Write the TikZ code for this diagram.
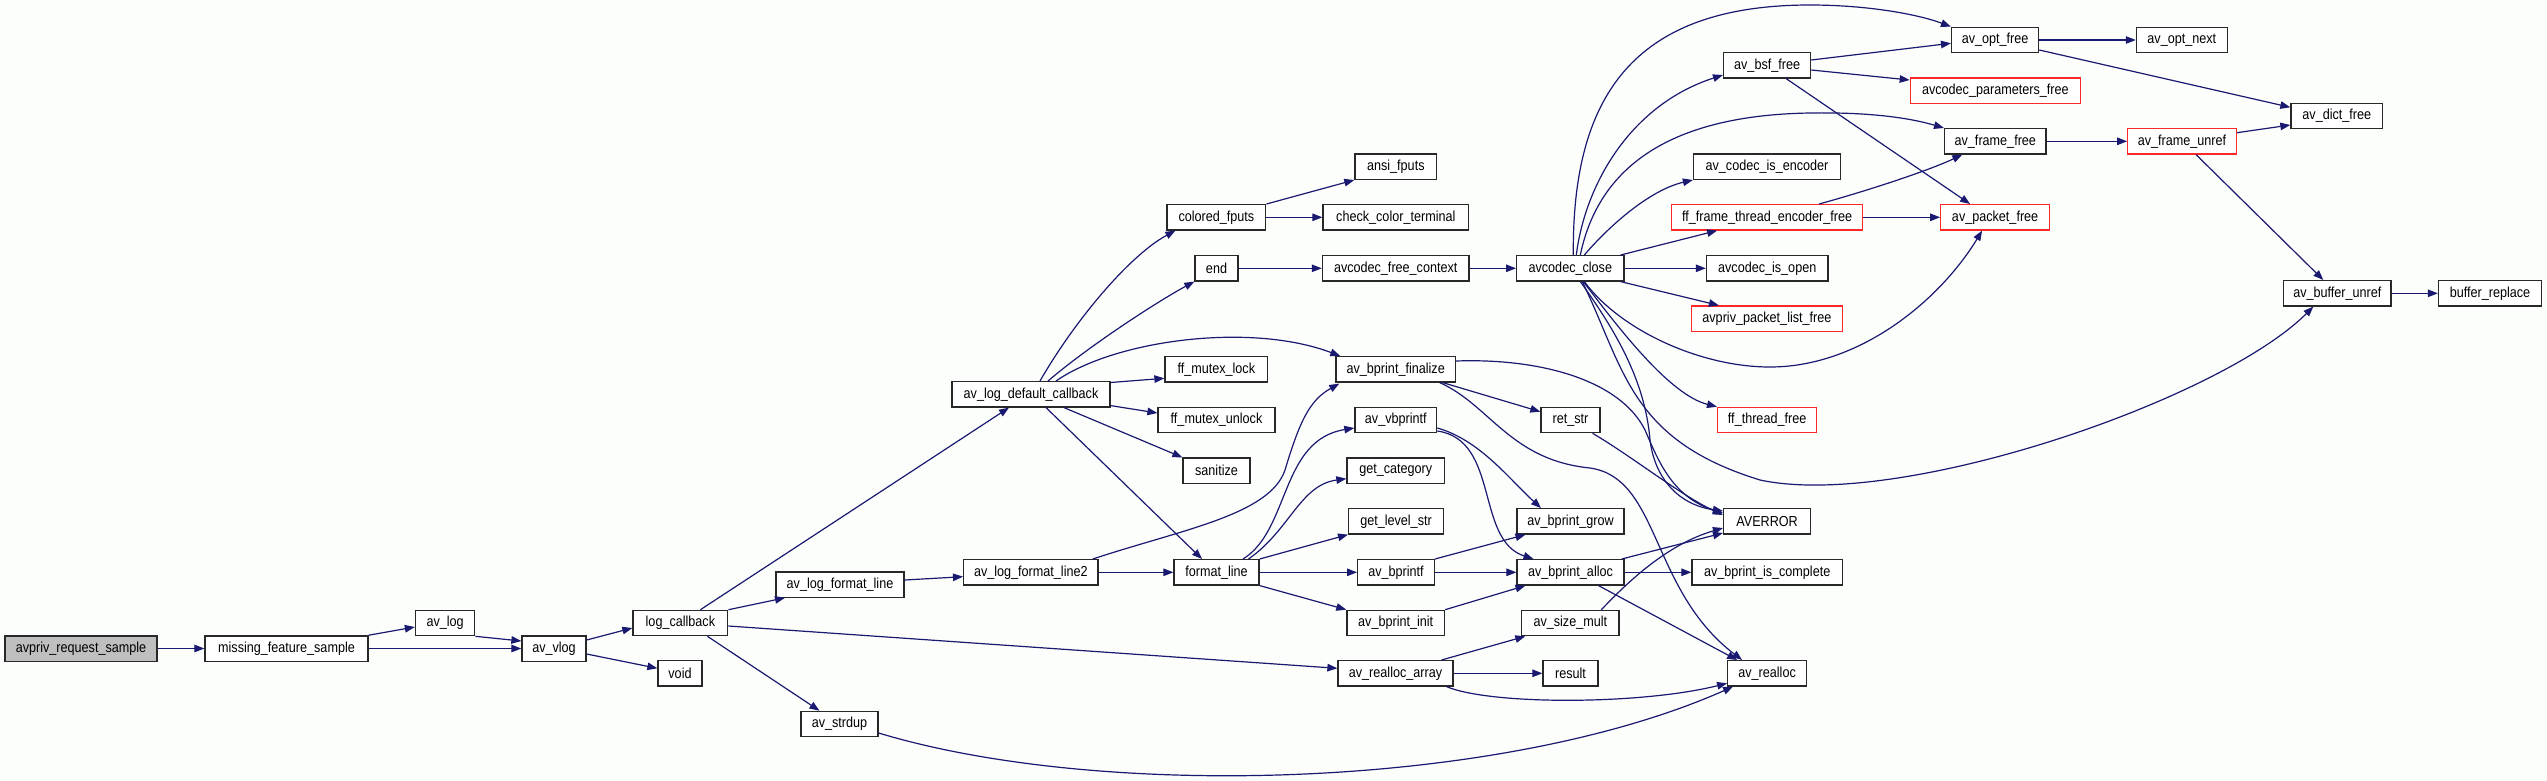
\documentclass[tikz,border=0pt]{standalone}
\usepackage{fontspec}
\setmainfont{Liberation Sans}
\newfontfamily\nodefont[FakeStretch=0.87]{Liberation Sans}
\usetikzlibrary{arrows.meta}
\definecolor{edgeblue}{RGB}{25,25,112}
\definecolor{boxred}{RGB}{255,40,40}
\definecolor{boxgray}{RGB}{191,191,191}
\definecolor{bgc}{RGB}{252,254,252}
\definecolor{boxline}{RGB}{40,40,40}
\begin{document}
\begin{tikzpicture}[x=1pt,y=-1pt,
  box/.style={draw=boxline, line width=1.3pt, fill=white, minimum height=25.3pt, inner sep=0pt,
    font=\nodefont\fontsize{14.5}{16}\selectfont, text=black},
  redbox/.style={box, draw=boxred},
  graybox/.style={box, fill=boxgray},
  e/.style={draw=edgeblue, line width=1.2pt, -{Triangle[length=10pt,width=7.5pt]}, color=edgeblue}]
\fill[bgc] (0,0) rectangle (2547,780);
\useasboundingbox (0,0) rectangle (2547,780);
% nodes
\node[graybox, minimum width=152] (ars) at (81,648.5) {avpriv\_request\_sample};
\node[box, minimum width=163] (mfs) at (286.5,648.5) {missing\_feature\_sample};
\node[box, minimum width=59.2] (avlog) at (445.1,623) {av\_log};
\node[box, minimum width=64] (vlog) at (554,648.5) {av\_vlog};
\node[box, minimum width=94.8] (logcb) at (680.4,623) {log\_callback};
\node[box, minimum width=44] (void) at (680,673.3) {void};
\node[box, minimum width=77] (strdup) at (839.5,724) {av\_strdup};
\node[box, minimum width=128] (lfl) at (840,584.5) {av\_log\_format\_line};
\node[box, minimum width=134.3] (lfl2) at (1030.8,572.3) {av\_log\_format\_line2};
\node[box, minimum width=158] (ldc) at (1031,394.3) {av\_log\_default\_callback};
\node[box, minimum width=85] (fmt) at (1216.5,572.3) {format\_line};
\node[box, minimum width=98.8] (cfp) at (1216.4,217.3) {colored\_fputs};
\node[box, minimum width=43] (endn) at (1216.5,268.3) {end};
\node[box, minimum width=102.6] (mlock) at (1216.3,369.3) {ff\_mutex\_lock};
\node[box, minimum width=117] (munlock) at (1216.5,420) {ff\_mutex\_unlock};
\node[box, minimum width=67] (sanit) at (1216.5,470.7) {sanitize};
\node[box, minimum width=81.7] (ansi) at (1395.8,166.7) {ansi\_fputs};
\node[box, minimum width=145.6] (cct) at (1395.8,217.3) {check\_color\_terminal};
\node[box, minimum width=146.6] (afc) at (1395.7,268.3) {avcodec\_free\_context};
\node[box, minimum width=119.5] (bpfin) at (1395.7,369.3) {av\_bprint\_finalize};
\node[box, minimum width=81.7] (vbpf) at (1395.8,420) {av\_vbprintf};
\node[box, minimum width=97.5] (getcat) at (1395.7,470.7) {get\_category};
\node[box, minimum width=94.7] (getlvl) at (1396,521.3) {get\_level\_str};
\node[box, minimum width=76.7] (bpf) at (1396,572.3) {av\_bprintf};
\node[box, minimum width=97.5] (bpinit) at (1395.7,623) {av\_bprint\_init};
\node[box, minimum width=115] (rarr) at (1395.5,673.3) {av\_realloc\_array};
\node[box, minimum width=107.3] (acclose) at (1570.3,268.3) {avcodec\_close};
\node[box, minimum width=59] (retstr) at (1570.5,420) {ret\_str};
\node[box, minimum width=107] (bpgrow) at (1570.5,521.3) {av\_bprint\_grow};
\node[box, minimum width=107] (bpalloc) at (1570.5,572.3) {av\_bprint\_alloc};
\node[box, minimum width=97.4] (sizemult) at (1570.3,623) {av\_size\_mult};
\node[box, minimum width=55] (result) at (1570.5,673.3) {result};
\node[box, minimum width=87] (bsf) at (1767.1,65.3) {av\_bsf\_free};
\node[box, minimum width=147] (isenc) at (1767,166.7) {av\_codec\_is\_encoder};
\node[redbox, minimum width=190.7] (ftef) at (1767.1,217.3) {ff\_frame\_thread\_encoder\_free};
\node[box, minimum width=121.5] (isopen) at (1767.2,268.3) {avcodec\_is\_open};
\node[redbox, minimum width=151] (pklf) at (1766.9,318.7) {avpriv\_packet\_list\_free};
\node[redbox, minimum width=99] (thfree) at (1767.1,420) {ff\_thread\_free};
\node[box, minimum width=87] (averr) at (1767.1,521.3) {AVERROR};
\node[box, minimum width=150.4] (bpcomplete) at (1767.2,572.3) {av\_bprint\_is\_complete};
\node[box, minimum width=78.8] (realloc) at (1767.1,673.3) {av\_realloc};
\node[box, minimum width=87] (optfree) at (1995.1,40) {av\_opt\_free};
\node[redbox, minimum width=170] (parfree) at (1995.3,90.7) {avcodec\_parameters\_free};
\node[box, minimum width=101.4] (frfree) at (1995.3,141.3) {av\_frame\_free};
\node[redbox, minimum width=108.6] (pkfree) at (1995.1,217.3) {av\_packet\_free};
\node[box, minimum width=90.8] (optnext) at (2181.8,40) {av\_opt\_next};
\node[redbox, minimum width=108.5] (frunref) at (2182,141.3) {av\_frame\_unref};
\node[box, minimum width=91.7] (dictfree) at (2336.8,116) {av\_dict\_free};
\node[box, minimum width=107.3] (bufunref) at (2337.3,293.3) {av\_buffer\_unref};
\node[box, minimum width=103] (bufrep) at (2490,293.3) {buffer\_replace};
% edges
\draw[e] (ars.east) -- (mfs.west);
\draw[e] (mfs.north east) -- ([yshift=-4]avlog.west);
\draw[e] (mfs.east) -- (vlog.west);
\draw[e] (avlog.south east) -- ([yshift=7.5]vlog.west);
\draw[e] ([yshift=8.5]vlog.east) -- ([yshift=-5]logcb.west);
\draw[e] ([yshift=-5.5]vlog.east) -- ([yshift=5]void.west);
\draw[e] ([xshift=20]logcb.north) -- ([xshift=-22]ldc.south);
\draw[e] (logcb.north east) -- ([xshift=-55]lfl.south);
\draw[e] ([yshift=-3]logcb.east) -- ([yshift=5]rarr.west);
\draw[e] ([xshift=27]logcb.south) -- ([xshift=-20]strdup.north);
\draw[e] ([yshift=-9]strdup.east) .. controls (1100,800) and (1500,790) .. ([xshift=-34]realloc.south);
\draw[e] ([yshift=4.5]lfl.east) -- ([yshift=-4.4]lfl2.west);
\draw[e] (lfl2.east) -- (fmt.west);
\draw[e] ([xshift=62]lfl2.north) .. controls (1180,530) and (1270,515) .. (1285,470) .. controls (1300,420) and (1310,400) .. ([xshift=4,yshift=-1]bpfin.south west);
\draw[e] ([xshift=9]ldc.north) .. controls (1075,320) and (1130,255) .. ([xshift=-41]cfp.south);
\draw[e] ([xshift=17]ldc.north) .. controls (1090,345) and (1160,300) .. (endn.south west);
\draw[e] ([xshift=25]ldc.north) .. controls (1115,340) and (1250,322) .. ([xshift=5]bpfin.north west);
\draw[e] ([yshift=-1.5]ldc.north east) -- ([yshift=-9]mlock.west);
\draw[e] ([yshift=2]ldc.south east) -- ([yshift=7]munlock.west);
\draw[e] ([xshift=33]ldc.south) -- (sanit.north west);
\draw[e] ([xshift=15]ldc.south) -- ([xshift=-14.5]fmt.north);
\draw[e] (cfp.north east) -- (ansi.south west);
\draw[e] (cfp.east) -- (cct.west);
\draw[e] (endn.east) -- (afc.west);
\draw[e] (afc.east) -- (acclose.west);
% avcodec_close
\draw[e] ([xshift=3]acclose.north) .. controls (1572,100) and (1630,5) .. (1810,5) .. controls (1870,5) and (1920,15) .. (optfree.north west);
\draw[e] ([xshift=6]acclose.north) .. controls (1585,185) and (1630,105) .. ([yshift=-9.7]bsf.west);
\draw[e] ([xshift=10]acclose.north) .. controls (1600,160) and (1680,115) .. (1810,113) .. controls (1870,112) and (1910,118) .. (frfree.north west);
\draw[e] ([xshift=14]acclose.north) .. controls (1610,225) and (1650,190) .. (isenc.south west);
\draw[e] ([xshift=-4]acclose.north east) -- ([xshift=-50]ftef.south);
\draw[e] (acclose.east) -- (isopen.west);
\draw[e] ([xshift=-4]acclose.south east) -- ([xshift=-48]pklf.north);
\draw[e] ([xshift=14]acclose.south) .. controls (1620,330) and (1700,367) .. (1770,367) .. controls (1860,367) and (1940,300) .. ([xshift=-13]pkfree.south);
\draw[e] ([xshift=13]acclose.south) .. controls (1620,330) and (1670,395) .. (thfree.north west);
\draw[e] ([xshift=10]acclose.south) .. controls (1615,330) and (1645,380) .. (1650,440) .. controls (1655,480) and (1680,505) .. ([yshift=10.3]averr.west);
\draw[e] ([xshift=12]acclose.south) .. controls (1625,370) and (1630,440) .. (1760,480) .. controls (1900,510) and (2220,400) .. ([xshift=-24]bufunref.south);
% av_bprint_finalize
\draw[e] ([yshift=8.3]bpfin.east) .. controls (1540,358) and (1620,380) .. (1645,430) .. controls (1658,460) and (1672,497) .. ([yshift=8.3]averr.west);
\draw[e] ([xshift=47]bpfin.south) -- ([yshift=8.3]retstr.west);
\draw[e] ([xshift=44]bpfin.south) .. controls (1490,405) and (1510,460) .. (1590,468) .. controls (1660,478) and (1650,590) .. ([xshift=-25]realloc.north);
\draw[e] ([xshift=22]retstr.south) .. controls (1630,455) and (1680,495) .. ([yshift=6.3]averr.west);
% format_line
\draw[e] ([xshift=26.5]fmt.north) .. controls (1290,530) and (1280,440) .. ([yshift=-8]vbpf.west);
\draw[e] ([xshift=32]fmt.north) .. controls (1290,530) and (1300,485) .. ([yshift=-8]getcat.west);
\draw[e] (fmt.north east) -- (getlvl.south west);
\draw[e] (fmt.east) -- (bpf.west);
\draw[e] (fmt.south east) -- (bpinit.north west);
% bprint
\draw[e] ([yshift=-8]vbpf.east) .. controls (1480,440) and (1510,480) .. ([xshift=-29.5]bpgrow.north);
\draw[e] ([yshift=-11]vbpf.east) .. controls (1500,440) and (1475,540) .. ([xshift=-37]bpalloc.north);
\draw[e] (bpf.north east) -- ([xshift=-45]bpgrow.south);
\draw[e] (bpf.east) -- (bpalloc.west);
\draw[e] (bpinit.north east) -- ([xshift=-45]bpalloc.south);
\draw[e] ([xshift=-3]bpalloc.north east) -- ([yshift=-11.7]averr.west);
\draw[e] (bpalloc.east) -- (bpcomplete.west);
\draw[e] ([xshift=28]bpalloc.south) -- ([xshift=-30]realloc.north);
\draw[e] ([xshift=31]sizemult.north) .. controls (1625,585) and (1665,545) .. ([yshift=-6.7]averr.west);
\draw[e] ([xshift=46]rarr.north) -- ([xshift=-45]sizemult.south);
\draw[e] (rarr.east) -- (result.west);
\draw[e] ([xshift=51]rarr.south) .. controls (1490,705) and (1640,705) .. ([yshift=-10]realloc.west);
% right part
\draw[e] ([yshift=5.3]bsf.east) -- ([yshift=-3.3]optfree.west);
\draw[e] ([yshift=-4.7]bsf.east) -- ([yshift=10.7]parfree.west);
\draw[e] ([xshift=19]bsf.south) -- ([xshift=-25]pkfree.north);
\draw[e] ([xshift=52]ftef.north) .. controls (1870,190) and (1930,170) .. ([xshift=-33]frfree.south);
\draw[e] (ftef.east) -- (pkfree.west);
\draw[e] (optfree.east) -- (optnext.west);
\draw[e] ([yshift=-10]optfree.east) -- ([yshift=8.7]dictfree.west);
\draw[e] (frfree.east) -- (frunref.west);
\draw[e] ([yshift=8.6]frunref.east) -- ([yshift=-9]dictfree.west);
\draw[e] ([xshift=14]frunref.south) -- ([xshift=-14]bufunref.north);
\draw[e] (bufunref.east) -- (bufrep.west);
\end{tikzpicture}
\end{document}
